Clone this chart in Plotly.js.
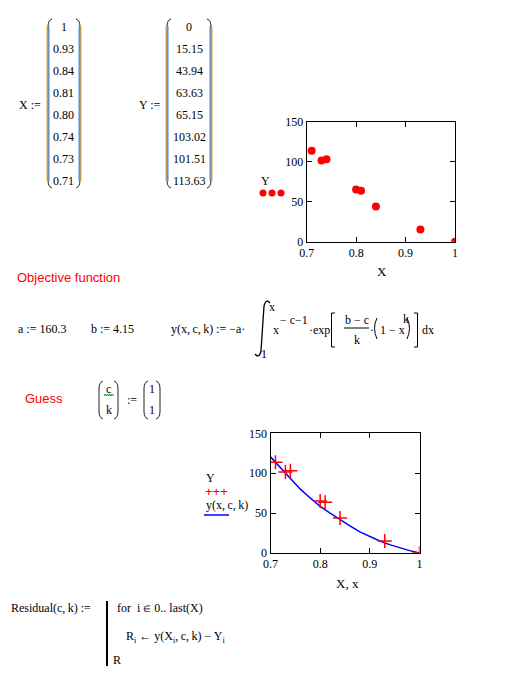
<!DOCTYPE html>
<html>
<head>
<meta charset="utf-8">
<script src="https://cdn.plot.ly/plotly-3.0.1.min.js"></script>
<style>html,body{margin:0;padding:0;background:#fff;}#chart{width:506px;height:683px;}</style>
</head>
<body>
<div id="chart"></div>
<script>
// ---- data ----
const X = [1, 0.93, 0.84, 0.81, 0.80, 0.74, 0.73, 0.71];
const Y = [0, 15.15, 43.94, 63.63, 65.15, 103.02, 101.51, 113.63];
const xLabels = ['1', '0.93', '0.84', '0.81', '0.80', '0.74', '0.73', '0.71'];
const yLabels = ['0', '15.15', '43.94', '63.63', '65.15', '103.02', '101.51', '113.63'];
const fitX = [0.70, 0.72, 0.74, 0.76, 0.78, 0.80, 0.82, 0.84, 0.86, 0.88, 0.90, 0.92, 0.94, 0.96, 0.98, 1.00];
const fitY = [120.5, 107, 93.5, 80, 69, 58.5, 50, 41.5, 34, 26.5, 20.5, 15, 10.5, 6.5, 3, 0];
const xTicks = [0.7, 0.8, 0.9, 1];
const xTickText = ['0.7', '0.8', '0.9', '1'];
const yTicks = [0, 50, 100, 150];
const yTickText = ['0', '50', '100', '150'];

// ---- helpers (pixel -> paper) ----
const W = 506, H = 683;
const px = x => x / W;
const py = y => 1 - y / H;
const SERIF = 'Liberation Serif, Times New Roman, serif';
const SANS = 'Liberation Sans, Arial, sans-serif';
const TS = '\u2009';
const annotations = [];
const shapes = [];
function txt(text, x, y, opts) {
  opts = opts || {};
  annotations.push({
    text: text, x: px(x), y: py(y), xref: 'paper', yref: 'paper',
    xanchor: opts.anchor || 'left', yanchor: 'middle', showarrow: false,
    borderpad: 0,
    font: {family: opts.family || SERIF, size: opts.size || 12, color: opts.color || '#000'}
  });
}
function pathPx(pts, color, width) {
  const d = pts.map((p, i) => (p[0] === 'Q' ? 'Q ' + px(p[1]) + ',' + py(p[2]) + ' ' + px(p[3]) + ',' + py(p[4])
    : (i === 0 ? 'M ' : 'L ') + px(p[0]) + ',' + py(p[1]))).join(' ');
  shapes.push({type: 'path', xref: 'paper', yref: 'paper', path: d, line: {color: color, width: width || 1}});
}
function lineP(x0, y0, x1, y1, color, width) {
  shapes.push({type: 'line', xref: 'paper', yref: 'paper', x0: px(x0), y0: py(y0), x1: px(x1), y1: py(y1),
    line: {color: color, width: width || 1}});
}
// Mathcad style matrix parenthesis; side 'L' or 'R'
function paren(x, y0, y1, side, colored) {
  const s = side === 'L' ? 1 : -1;
  const h = 5;
  pathPx([[x + s * 4, y0], ['Q', x, y0 + 1, x, y0 + h + 3], [x, y1 - h - 3], ['Q', x, y1 - 1, x + s * 4, y1]], '#222', 1);
  if (colored) {
    lineP(x - s * 1, y0 + 7, x - s * 1, y1 - 7, '#f0a040', 1);
    lineP(x + s * 1, y0 + 7, x + s * 1, y1 - 7, '#4a90e0', 1);
  }
}

// ---- X and Y matrices ----
txt('X :=', 18, 105);
txt('Y :=', 138, 105);
xLabels.forEach((t, i) => txt(t, 64, 27 + 22 * i, {anchor: 'center'}));
yLabels.forEach((t, i) => txt(t, 189, 27 + 22 * i, {anchor: 'center'}));
paren(48, 19, 188, 'L', true);
paren(80, 19, 188, 'R', true);
paren(167, 19, 188, 'L', true);
paren(211, 19, 188, 'R', true);

// ---- plot 1 legend + title ----
txt('Y', 265, 181, {anchor: 'center'});
[263, 272, 281].forEach(cx => shapes.push({type: 'circle', xref: 'paper', yref: 'paper',
  x0: px(cx - 3.5), x1: px(cx + 3.5), y0: py(193 + 3.5), y1: py(193 - 3.5),
  fillcolor: '#ff0000', line: {color: '#ff0000', width: 0}}));
txt('X', 382, 271, {anchor: 'center', size: 13});

// ---- objective function ----
txt('Objective function', 16, 278, {family: SANS, size: 13, color: '#ff0000'});
txt('a := 160.3', 17, 329);
txt('b := 4.15', 90, 329);
txt('y(x,' + TS + 'c,' + TS + 'k) := \u2212a\u00b7', 170, 329);
pathPx([[270, 303], ['Q', 266, 298, 264, 306], [261, 351], ['Q', 259, 359, 255, 354]], '#000', 1.3);
txt('x', 268, 307);
txt('1', 260, 354);
txt('x', 272, 330);
txt('\u2212 c\u22121', 279, 320);
txt('\u00b7exp', 308, 330);
pathPx([[335, 313], [331.5, 313], [331.5, 347], [335, 347]], '#000', 1);
txt('b \u2212 c', 357, 320, {anchor: 'center'});
lineP(344, 328, 369, 328, '#000', 1);
txt('k', 357, 340, {anchor: 'center'});
txt('\u00b7', 369, 330);
pathPx([[377, 318], ['Q', 372, 328, 377, 339]], '#000', 1);
txt('1 \u2212 x', 379, 330);
txt('k', 402, 319);
pathPx([[407, 318], ['Q', 412, 328, 407, 339]], '#000', 1);
pathPx([[414, 313], [417.5, 313], [417.5, 347], [414, 347]], '#000', 1);
txt('dx', 421, 330);

// ---- guess ----
txt('Guess', 24, 398, {family: SANS, size: 13, color: '#ff0000'});
paren(99, 381, 419, 'L', false);
paren(118, 381, 419, 'R', false);
txt('c', 108.5, 389, {anchor: 'center'});
pathPx([[104, 396], [105.2, 394], [106.4, 396], [107.6, 394], [108.8, 396], [110, 394], [111.2, 396], [112.4, 394], [113.6, 396]], '#00a000', 1);
txt('k', 108.5, 410, {anchor: 'center'});
txt(':=', 132, 400, {anchor: 'center'});
paren(144, 381, 419, 'L', false);
paren(160, 381, 419, 'R', false);
txt('1', 152, 389, {anchor: 'center'});
txt('1', 152, 410, {anchor: 'center'});

// ---- plot 2 legend + title ----
txt('Y', 210, 478, {anchor: 'center'});
txt('+++', 204, 491, {family: SANS, size: 13, color: '#ff0000'});
txt('y(x,' + TS + 'c,' + TS + 'k)', 205, 505);
lineP(204, 515, 229, 515, '#0000ff', 1.5);
txt('X, x', 347, 583, {anchor: 'center', size: 13});

// ---- residual ----
txt('Residual(c,' + TS + 'k) :=', 10, 608);
lineP(107, 601, 107, 666, '#000', 2);
txt('for  i <span style="font-size:9px">\u2208</span> 0.. last(X)', 116, 608);
txt('R<sub>i</sub> \u2190 y(X<sub>i</sub>,' + TS + 'c,' + TS + 'k) \u2212 Y<sub>i</sub>', 125, 637);
txt('R', 112, 660);

// ---- axes ----
function axisBase(domain, range, tv, tt) {
  return {
    domain: domain, range: range, tickvals: tv, ticktext: tt, ticks: 'inside', ticklen: 5,
    tickcolor: '#000', showline: true, linecolor: '#000', linewidth: 1, mirror: 'ticks',
    showgrid: false, zeroline: false, fixedrange: true,
    tickfont: {family: SERIF, size: 12, color: '#000'}
  };
}

const traces = [
  {x: X, y: Y, xaxis: 'x', yaxis: 'y', type: 'scatter', mode: 'markers',
    marker: {color: '#ff0000', size: 8}, showlegend: false, hoverinfo: 'skip'},
  {x: fitX, y: fitY, xaxis: 'x2', yaxis: 'y2', type: 'scatter', mode: 'lines',
    line: {color: '#0000ff', width: 1.5}, showlegend: false, hoverinfo: 'skip'},
  {x: X, y: Y, xaxis: 'x2', yaxis: 'y2', type: 'scatter', mode: 'markers',
    marker: {symbol: 'cross-thin', color: '#ff0000', size: 10, line: {color: '#ff0000', width: 1.5}},
    showlegend: false, hoverinfo: 'skip'}
];

const layout = {
  width: W, height: H, margin: {l: 0, r: 0, t: 0, b: 0, pad: 0},
  paper_bgcolor: '#fff', plot_bgcolor: 'rgba(0,0,0,0)', showlegend: false,
  font: {family: SERIF, size: 12, color: '#000'},
  xaxis: Object.assign(axisBase([px(306.7), px(455)], [0.7, 1], xTicks, xTickText), {anchor: 'y'}),
  yaxis: Object.assign(axisBase([py(241.7), py(121.7)], [0, 150], yTicks, yTickText), {anchor: 'x'}),
  xaxis2: Object.assign(axisBase([px(270.5), px(419.5)], [0.7, 1], xTicks, xTickText), {anchor: 'y2'}),
  yaxis2: Object.assign(axisBase([py(553), py(433.3)], [0, 150], yTicks, yTickText), {anchor: 'x2'}),
  annotations: annotations,
  shapes: shapes
};

Plotly.newPlot('chart', traces, layout, {staticPlot: true, displayModeBar: false});
</script>
</body>
</html>
